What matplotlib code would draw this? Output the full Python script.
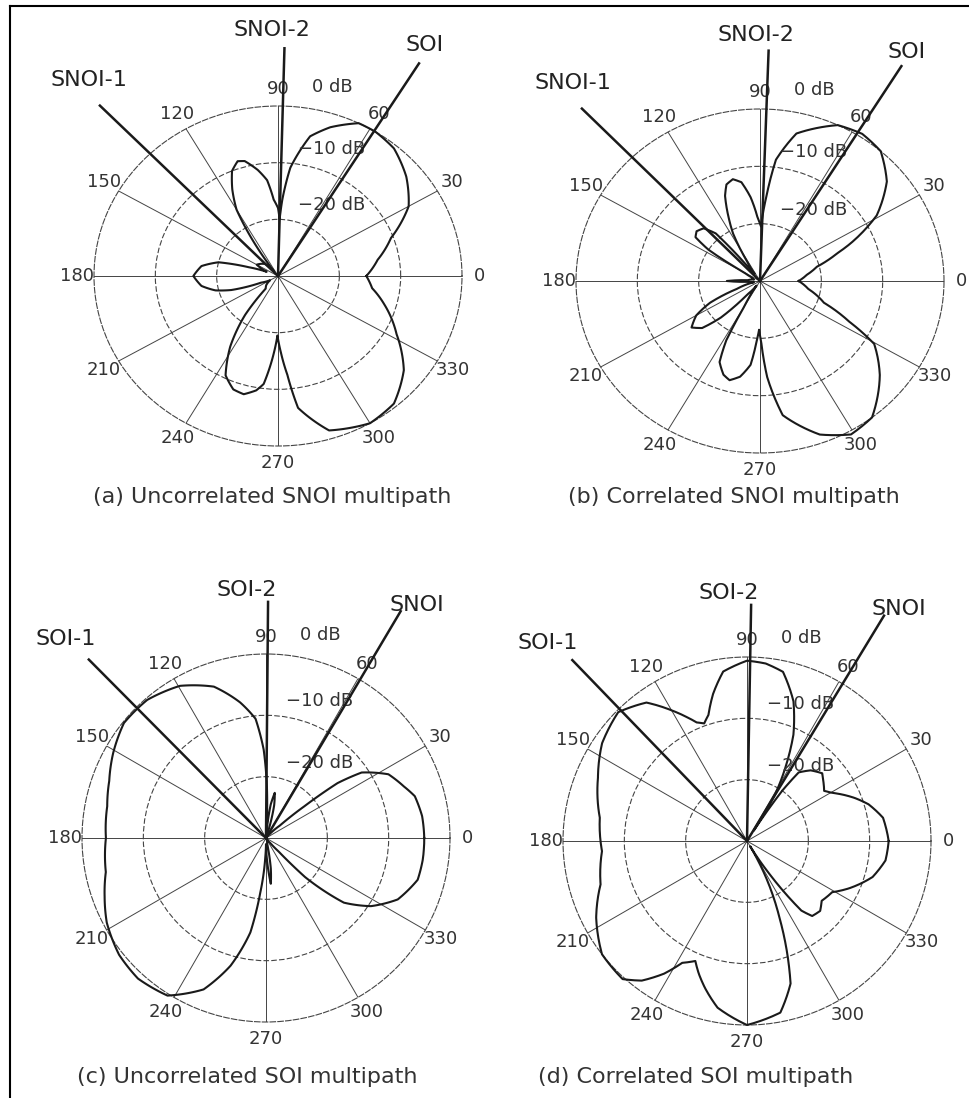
import numpy as np
import matplotlib.pyplot as plt
from matplotlib.lines import Line2D

plt.rcParams['font.family'] = ['DejaVu Sans', 'Liberation Sans']

# rim labels and dB rings (0 dB = outer ring, -30 dB = centre)
theta_ticks = [0, 30, 60, 90, 120, 150, 180, 210, 240, 270, 300, 330]
ring_db = [-20, -10, 0]
ring_labels = ['\u221220 dB', '\u221210 dB', '0 dB']

# (a) uncorrelated SNOI multipath
ang_a = [0, 10, 20, 30, 40, 50, 58, 64, 72, 78, 84, 87, 88.5, 90, 93, 96, 100, 105, 108,
         112, 116, 120, 124, 127, 135, 142, 150, 158, 162, 166, 172, 180, 188, 194, 198,
         203, 210, 220, 228, 232, 238, 244, 250, 255, 260, 263, 267, 269.5, 272, 275,
         278, 287, 300, 310, 321, 332, 344, 352]
gain_a = [-15.6, -13.5, -10.4, -5.4, -2.7, -0.6, 0, 0, -2.4, -4.8, -10.8, -16.5, -20,
          -18, -16.5, -13, -11, -9, -8.7, -10, -13, -16.5, -24, -29, -27, -26.5, -26,
          -28, -25, -20, -17.4, -16.2, -17.4, -19.5, -22, -27, -28.5, -27.5, -27, -21.3,
          -15.3, -10.5, -8.7, -8.4, -9.5, -10.8, -16.2, -19.5, -16.5, -12.5, -6.5, -1.5,
          0, -0.6, -3.6, -8.1, -12, -14.5]

# (b) correlated SNOI multipath
ang_b = [0, 8, 15, 21, 24, 31, 40, 49, 57, 65, 77, 83, 86, 89, 92, 96, 100, 104, 108,
         111, 115, 118, 121, 125, 128, 131, 135, 140, 144, 147, 150, 155, 165, 176, 180,
         184, 192, 200, 205, 210, 216, 221, 225, 229, 235, 240, 242, 245, 250, 254, 259,
         264, 267, 269, 271, 274, 279, 290, 299, 307.5, 320, 329.5, 334, 340, 350]
gain_b = [-23.7, -22.3, -20.4, -16.5, -13.8, -7.8, -3, 0, 0.6, 0, -3.6, -8.7, -15.3,
          -20.5, -19, -15.3, -12.5, -11.7, -12.3, -14.1, -18, -20.7, -25, -28.5, -28,
          -19, -17, -16.5, -17, -20, -27, -28.5, -29, -28, -24.6, -28, -29, -26, -21,
          -18, -16.2, -17.5, -21, -27, -29, -25, -18.3, -14.4, -12.6, -12, -13, -15.3,
          -19.5, -21.5, -19.5, -13.2, -6.3, -1.5, 0.6, 0, -4.5, -8.4, -13.8, -18.9, -22]

# (c) uncorrelated SOI multipath
ang_c = [0, 8, 15.7, 20.5, 27.5, 34.4, 37.5, 39.6, 42, 48, 58, 66, 72, 76, 79, 82, 85,
         87.5, 89, 91.5, 95, 100.8, 109, 119.5, 130.7, 141, 151, 160, 168.7, 180, 192,
         200, 208, 218.5, 227.7, 238, 247.6, 254.5, 260.6, 264, 268, 270, 273, 276, 279,
         282, 290, 300, 310, 313, 315, 320.3, 327, 335, 344.6, 352]
gain_c = [-4.2, -4.3, -4.8, -6, -7.5, -11.1, -15.3, -21.9, -27, -29.5, -30, -29.5, -29,
          -24.5, -22.5, -24.5, -29, -26, -21.6, -15.6, -10.5, -7.5, -3.9, -1.5, -0.3,
          -0.2, -1.5, -2.8, -3.6, -3.9, -3.3, -2, -0.6, 0.6, 1, 0.3, -3.3, -8.4, -14.4,
          -21, -27, -29, -26, -22.5, -25, -29, -29.5, -30, -29, -27, -21, -13.5, -9.6,
          -6.3, -4.35, -4.2]

# (d) correlated SOI multipath
ang_d = [0, 9.7, 16.8, 21.8, 29.6, 33, 38, 42, 48, 53, 55, 57, 59, 62.4, 66.4, 71.6,
         78, 84, 90, 98, 103, 107, 110, 113, 116, 120, 126, 135, 146, 157, 171, 184,
         196.5, 207, 218, 228, 233, 238, 242, 246.7, 250, 254, 260, 270, 281, 287, 293,
         298, 301, 304, 308, 311, 316.3, 321.3, 329, 335, 344, 352]
gain_d = [-6.9, -7.5, -9.3, -11.1, -14.1, -15, -14.2, -13.5, -14.5, -16, -20, -28, -21,
          -16.5, -11.1, -6, -1.8, -0.9, -0.6, -2.1, -5.4, -8.5, -9.6, -9, -7.5, -5.4,
          -2.1, -0.3, -1.5, -3.6, -5.7, -6.3, -5.1, -2.4, 0, 0.3, -1.5, -4.5, -7.5, -8.7,
          -7, -5.1, -2.4, 0, -1.5, -5.7, -16.5, -24, -29, -24, -15.6, -13.8, -13.5,
          -14.4, -13.8, -11.7, -8.7, -7.2]

# signal directions in degrees: [left, vertical, right]
dirs_a = [134.0, 88.5, 58.5]
dirs_b = [134.0, 88.0, 58.4]
dirs_c = [134.8, 89.5, 59.3]
dirs_d = [134.0, 89.0, 58.7]
names_snoi = ['SNOI-1', 'SNOI-2', 'SOI']
names_soi = ['SOI-1', 'SOI-2', 'SNOI']

captions = ['(a) Uncorrelated SNOI multipath', '(b) Correlated SNOI multipath',
            '(c) Uncorrelated SOI multipath', '(d) Correlated SOI multipath']

# ---- layout (pixels) ----
W, H = 970, 1098
R = 184
# centre x, centre y, vertical radius (the top row of the scan is a bit squashed)
boxes = [(278, 276, 170), (760, 281, 172), (266, 838, 184), (747, 841, 184)]
cap_pos = [(272, 497), (734, 497), (247, 1077), (696, 1077)]
line_ext = [[11.8, 10.2, 14.0], [11.8, 10.2, 14.0], [11.0, 8.5, 13.0], [11.0, 8.5, 13.0]]
name_pos = [[(89, 80), (272, 30), (425, 45)],
            [(573, 83), (756, 35), (907, 52)],
            [(66, 639), (247, 590), (417, 605)],
            [(548, 643), (729, 593), (899, 609)]]

ink = '#1a1a1a'
fig = plt.figure(figsize=(W / 100, H / 100), dpi=100)

panels = [(ang_a, gain_a, dirs_a, names_snoi), (ang_b, gain_b, dirs_b, names_snoi),
          (ang_c, gain_c, dirs_c, names_soi), (ang_d, gain_d, dirs_d, names_soi)]

for i, (ang, gain, dirs, names) in enumerate(panels):
    cx, cy, ry = boxes[i]
    ax = fig.add_axes([(cx - R) / W, 1 - (cy + ry) / H, 2 * R / W, 2 * ry / H],
                      projection='polar')
    ax.set_aspect('auto')
    ax.set_ylim(-30, 0)
    ax.set_thetagrids(theta_ticks, [str(t) for t in theta_ticks], fontsize=13, color='#333')
    ax.tick_params(axis='x', pad=2)
    ax.set_rgrids(ring_db[:-1], labels=[])
    ax.xaxis.grid(True, color='#444', lw=0.7, ls='-')
    ax.yaxis.grid(True, color='#444', lw=0.8, ls=(0, (5, 2)))
    ax.spines['polar'].set_linestyle((0, (5, 2)))
    ax.spines['polar'].set_linewidth(0.8)
    ax.spines['polar'].set_color('#444')

    th = np.deg2rad(ang + [ang[0] + 360])
    ln, = ax.plot(th, gain + [gain[0]], color=ink, lw=1.5, clip_on=False, zorder=3)
    ln.get_path()._interpolation_steps = 16   # draw each step as a polar arc, not a chord

    for d, ext in zip(dirs, line_ext[i]):
        t = np.deg2rad(d)
        ax.plot([t, t], [-30, ext], color=ink, lw=1.8, clip_on=False, zorder=4)
    for name, (px, py) in zip(names, name_pos[i]):
        fig.text(px / W, 1 - py / H, name, ha='center', va='center', fontsize=16,
                 color='#222')

    for rdb, lab in zip(ring_db, ring_labels):
        dx, dy = (34, 19) if rdb == 0 else (20, 14)
        ax.annotate(lab, xy=(np.pi / 2, rdb), xytext=(dx, dy), textcoords='offset pixels',
                    ha='left', va='center', fontsize=13, color='#333',
                    annotation_clip=False)

    fig.text(cap_pos[i][0] / W, 1 - cap_pos[i][1] / H, captions[i], ha='center',
             va='center', fontsize=16, color='#333')

# frame lines at the top and left edge
fig.add_artist(Line2D([10 / W, 10 / W], [0, 1 - 6 / H], color='k', lw=1.5))
fig.add_artist(Line2D([10 / W, 1], [1 - 6 / H, 1 - 6 / H], color='k', lw=1.5))

fig.savefig('out.png', dpi=100)
